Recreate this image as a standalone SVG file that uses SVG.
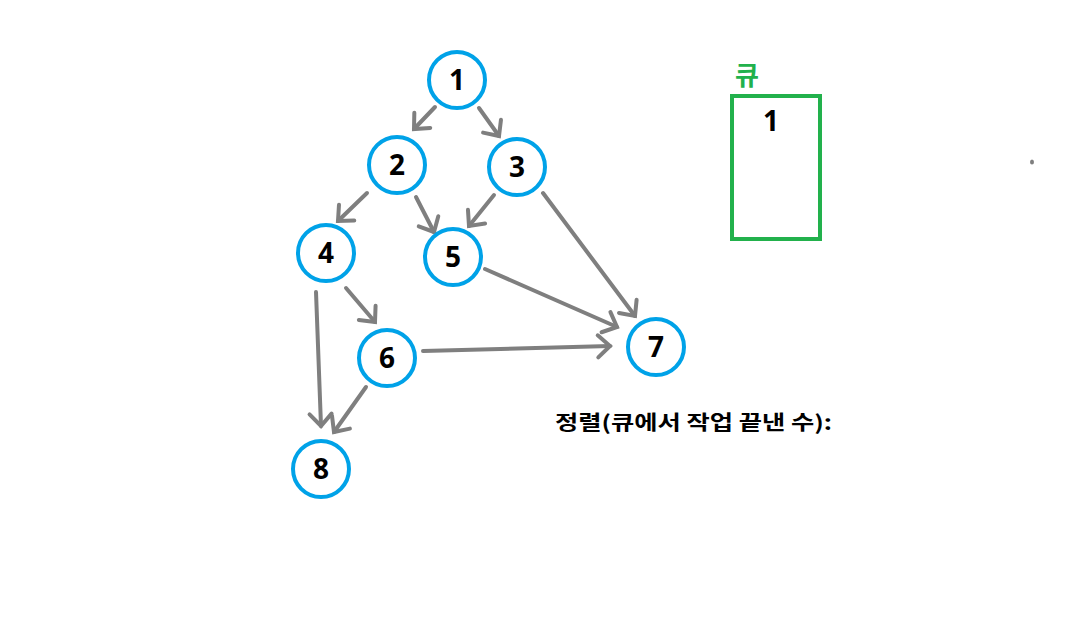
<svg xmlns="http://www.w3.org/2000/svg" width="1066" height="634" viewBox="0 0 1066 634">
<style>
.node circle{fill:#fff;stroke:#00a2e8;stroke-width:4}
.node text{font-family:"Noto Sans","Liberation Sans",sans-serif;font-weight:bold;font-size:28px;fill:#000;text-anchor:middle}
#edges line{stroke:#7f7f7f;stroke-width:4;stroke-linecap:round;marker-end:url(#ah)}
.kr{font-family:"Noto Sans CJK KR",sans-serif;font-weight:bold}
</style>
<defs>
<marker id="ah" markerUnits="userSpaceOnUse" markerWidth="30" markerHeight="30" refX="17" refY="15" orient="auto" viewBox="0 0 30 30">
<polyline points="5,4 17,15 5,26" fill="none" stroke="#7f7f7f" stroke-width="4" stroke-linecap="round" stroke-linejoin="miter"/>
</marker>
</defs>
<rect width="1066" height="634" fill="#fff"/>
<g id="edges">
<line x1="435" y1="107" x2="414" y2="129"/>
<line x1="479" y1="108" x2="499" y2="136"/>
<line x1="367" y1="193" x2="338" y2="221"/>
<line x1="416" y1="197" x2="434" y2="232"/>
<line x1="494" y1="195" x2="469" y2="226"/>
<line x1="543" y1="193" x2="635" y2="316"/>
<line x1="485" y1="269" x2="617" y2="327"/>
<line x1="346" y1="288" x2="375" y2="322"/>
<line x1="316" y1="292" x2="321" y2="426"/>
<line x1="366" y1="387" x2="334" y2="432"/>
<line x1="423" y1="351" x2="610" y2="346"/>
</g>
<g id="n1" class="node"><circle cx="457" cy="80" r="28"/><text x="457" y="90">1</text></g>
<g id="n2" class="node"><circle cx="397" cy="165" r="28"/><text x="397" y="175">2</text></g>
<g id="n3" class="node"><circle cx="517" cy="167" r="28"/><text x="517" y="177">3</text></g>
<g id="n4" class="node"><circle cx="326" cy="253" r="28"/><text x="326" y="263">4</text></g>
<g id="n5" class="node"><circle cx="453" cy="257" r="28"/><text x="453" y="267">5</text></g>
<g id="n6" class="node"><circle cx="387" cy="358" r="28"/><text x="387" y="368">6</text></g>
<g id="n7" class="node"><circle cx="656" cy="347" r="28"/><text x="656" y="357">7</text></g>
<g id="n8" class="node"><circle cx="321" cy="469" r="28"/><text x="321" y="479">8</text></g>
<g id="queue">
<text class="kr" x="747" y="85" font-size="26" fill="#22b14c" text-anchor="middle">큐</text>
<rect x="732" y="96" width="88" height="143" fill="none" stroke="#22b14c" stroke-width="4"/>
<text x="771" y="131" font-family="Noto Sans,Liberation Sans,sans-serif" font-weight="bold" font-size="28" text-anchor="middle">1</text>
</g>
<text class="kr" x="555" y="430" font-size="20" fill="#000" textLength="277" lengthAdjust="spacingAndGlyphs">정렬(큐에서 작업 끝낸 수):</text>
<ellipse cx="1032" cy="162" rx="2" ry="2.5" fill="#7f7f7f"/>
</svg>
